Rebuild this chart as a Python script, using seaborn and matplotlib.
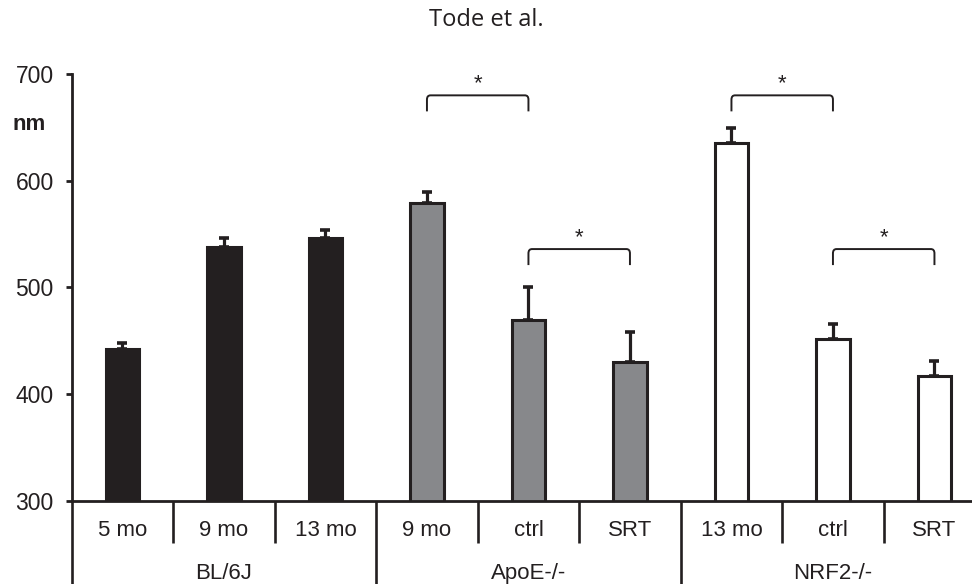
import numpy as np
import pandas as pd
import matplotlib
matplotlib.use("Agg")
import matplotlib.pyplot as plt
from matplotlib.path import Path
from matplotlib.patches import PathPatch
import seaborn as sns

# ---- data ----
groups = ["BL/6J", "ApoE-/-", "NRF2-/-"]
group_of_bar = ["BL/6J", "BL/6J", "BL/6J", "ApoE-/-", "ApoE-/-", "ApoE-/-", "NRF2-/-", "NRF2-/-", "NRF2-/-"]
sub_labels = ["5 mo", "9 mo", "13 mo", "9 mo", "ctrl", "SRT", "13 mo", "ctrl", "SRT"]
means = [442, 538, 546, 579, 470, 430, 635, 452, 417]
errors = [6, 8, 8, 10, 30, 28, 14, 14, 14]
# significance brackets: (bar i, bar j)
sig_pairs = [(3, 4), (4, 5), (6, 7), (7, 8)]
sig_levels = [680, 536, 680, 536]
y_ticks = [300, 400, 500, 600, 700]

keys = [f"{g}|{s}|{i}" for i, (g, s) in enumerate(zip(group_of_bar, sub_labels))]
df = pd.DataFrame({"key": keys, "value": means, "group": group_of_bar})

BLACK = "#231f20"
GREY = "#87888b"
WHITE = "#ffffff"
group_colors = {"BL/6J": BLACK, "ApoE-/-": GREY, "NRF2-/-": WHITE}
palette = {k: group_colors[g] for k, g in zip(keys, group_of_bar)}

sns.set_style("ticks")
plt.rcParams["font.family"] = ["Liberation Sans", "DejaVu Sans"]

fig = plt.figure(figsize=(9.72, 5.84), dpi=100)
W, H = 972, 584
ax = fig.add_axes([71.7 / W, 1 - 501 / H, (985.2 - 71.7) / W, (501 - 74) / H])

sns.barplot(data=df, x="key", y="value", hue="key", order=keys, palette=palette,
            legend=False, width=0.33, edgecolor=BLACK, linewidth=2.2, ax=ax,
            errorbar=None, saturation=1)

xs = np.arange(len(keys))
ax.errorbar(xs, means, yerr=[np.zeros(len(errors)), errors], fmt="none",
            ecolor=BLACK, elinewidth=2.3, capsize=3.3, capthick=2.6, zorder=1)

ax.set_xlim(-0.5, len(keys) - 0.5)
ax.set_ylim(300, 700)
ax.set_yticks(y_ticks)
ax.tick_params(axis="y", labelsize=16.5, length=4, width=2, pad=9, color=BLACK, labelcolor=BLACK)
ax.tick_params(axis="x", bottom=False, labelbottom=False)
ax.set_xlabel("")
ax.set_ylabel("")
for s in ["top", "right"]:
    ax.spines[s].set_visible(False)
for s in ["left", "bottom"]:
    ax.spines[s].set_linewidth(2.0)
    ax.spines[s].set_color(BLACK)

# category labels below axis
tr = ax.get_xaxis_transform()
for i, lab in enumerate(sub_labels):
    ax.text(i, -0.068, lab, transform=tr, ha="center", va="center", fontsize=16, color=BLACK)
for gi, g in enumerate(groups):
    ax.text(gi * 3 + 1, -0.169, g, transform=tr, ha="center", va="center", fontsize=16, color=BLACK)
# separators
for b in np.arange(-0.5, len(keys), 1.0):
    if b == -0.5 or (b + 0.5) % 3 == 0:
        y0 = -0.3
    else:
        y0 = -0.098
    ax.plot([b, b], [0, y0], transform=tr, color=BLACK, lw=1.9, clip_on=False,
            solid_capstyle="butt")

# significance brackets with rounded corners
rx, ry = 0.035, 4
for (i, j), lvl in zip(sig_pairs, sig_levels):
    verts = [(i, lvl - 15), (i, lvl - ry), (i, lvl), (i + rx, lvl),
             (j - rx, lvl), (j, lvl), (j, lvl - ry), (j, lvl - 15)]
    codes = [Path.MOVETO, Path.LINETO, Path.CURVE3, Path.CURVE3,
             Path.LINETO, Path.CURVE3, Path.CURVE3, Path.LINETO]
    ax.add_patch(PathPatch(Path(verts, codes), fill=False, edgecolor=BLACK, lw=1.4,
                           clip_on=False))
    ax.text((i + j) / 2, lvl + 1, "*", ha="center", va="bottom", fontsize=16, color=BLACK)

fig.text(12.7 / W, 1 - 125 / H, "nm", ha="left", va="center", fontsize=16,
         fontweight="bold", color=BLACK)
fig.text(486 / W, 1 - 20 / H, "Tode et al.", ha="center", va="center", fontsize=17,
         family=["Open Sans", "DejaVu Sans"], color=BLACK)

fig.savefig("out.png", dpi=100)
